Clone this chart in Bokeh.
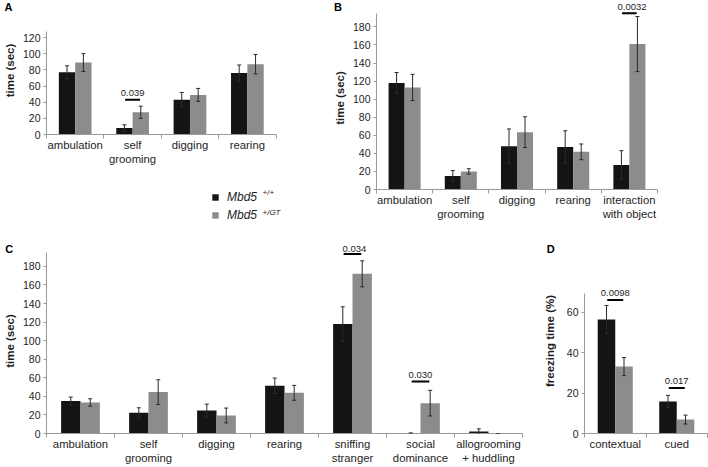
import numpy as np
from bokeh.plotting import figure
from bokeh.models import (ColumnDataSource, FixedTicker, Whisker, TeeHead, Label,
                          Legend, LegendItem, Range1d, LinearAxis, Title)
from bokeh.layouts import row, column
from bokeh.embed import file_html
from bokeh.resources import INLINE
from bokeh.core.properties import value

FONT = "Liberation Sans"
BLACK = "#141414"
GREY = "#8c8c8c"
AXIS = "#9a9a9a"
TXT = "#1e1e1e"
ERR = "#2a2a2a"
BW = 0.285
SIG_FS = 9.5
LET_FS = 11

# ---------------- data ----------------
a_cats = ["ambulation", "self\ngrooming", "digging", "rearing"]
a_wt = [77, 8, 43, 76]
a_wt_err = [8, 4, 9, 10]
a_gt = [89, 27.5, 49, 87]
a_gt_err = [11, 7.5, 8, 12]
a_yticks = [0, 20, 40, 60, 80, 100, 120]
a_sig_idx = [1]
a_sig_y = [43]
a_sig_txt = ["0.039"]

b_cats = ["ambulation", "self\ngrooming", "digging", "rearing", "interaction\nwith object"]
b_wt = [118, 15, 48, 47, 27]
b_wt_err = [11.5, 6, 19, 18, 16]
b_gt = [113, 20, 63.5, 41.7, 161]
b_gt_err = [14.5, 3, 17, 8.7, 30.5]
b_yticks = [0, 20, 40, 60, 80, 100, 120, 140, 160, 180]
b_sig_idx = [4]
b_sig_y = [195]
b_sig_txt = ["0.0032"]

c_cats = ["ambulation", "self\ngrooming", "digging", "rearing", "sniffing\nstranger",
          "social\ndominance", "allogrooming\n+ huddling"]
c_wt = [34.9, 22.3, 24.8, 51.4, 117.9, 0.4, 2.2]
c_wt_err = [4.3, 5.4, 6.8, 8.3, 18.6, 0, 2.8]
c_gt = [33.4, 44.6, 19.4, 43.8, 172, 32.7, 0]
c_gt_err = [4, 13.3, 8, 8, 14, 13.8, 0]
c_yticks = [0, 20, 40, 60, 80, 100, 120, 140, 160, 180]
c_sig_idx = [4, 5]
c_sig_y = [193.4, 56]
c_sig_txt = ["0.034", "0.030"]

d_cats = ["contextual", "cued"]
d_wt = [56.5, 15.9]
d_wt_err = [7, 3]
d_gt = [33.2, 6.9]
d_gt_err = [4.5, 2.2]
d_yticks = [0, 20, 40, 60]
d_sig_idx = [0, 1]
d_sig_y = [66.2, 22.6]
d_sig_txt = ["0.0098", "0.017"]

legend_labels = ["Mbd5", "Mbd5"]
legend_sups = ["+/+", "+/GT"]


def text_w(s, fs):
    w = {".": 0.278}
    return sum(w.get(ch, 0.556) for ch in s) * fs


def zero_title(text, fs, offset, bold=False):
    # a title that takes no layout height, centred on the top edge of the frame stack
    return Title(text=text, align="left", vertical_align="middle", offset=offset,
                 standoff=-(2 + 1.117 * fs), text_font=FONT, text_font_size=f"{fs}px",
                 text_font_style="bold" if bold else "normal", text_color="black" if bold else TXT)


def make_panel(cats, wt, wt_err, gt, gt_err, yticks, ylabel, axis_top, axis_n, y_end, x_end,
               width, height, b_left, b_right, b_top, b_bottom, label_standoff,
               sig_idx, sig_y, sig_txt, letter, letter_left):
    n = len(cats)
    p = figure(width=width, height=height, x_range=Range1d(0, x_end), y_range=Range1d(0, y_end),
               output_backend="svg", toolbar_location=None,
               min_border_left=b_left, min_border_right=b_right,
               min_border_top=0, min_border_bottom=b_bottom,
               x_axis_type=None, y_axis_type=None)
    p.outline_line_color = None
    p.background_fill_color = "white"
    p.border_fill_color = "white"
    p.title.visible = False

    frame_w = width - b_left - b_right
    frame_h = height - b_top - b_bottom
    cw = frame_w / x_end

    centers = np.arange(n) + 0.5
    xaxis = LinearAxis(ticker=FixedTicker(ticks=[float(c) for c in centers],
                                          minor_ticks=[float(v) for v in range(n + 1)]),
                       major_label_overrides={float(c): lab for c, lab in zip(centers, cats)},
                       bounds=(0, axis_n))
    xaxis.axis_line_color = AXIS
    xaxis.major_tick_line_color = None
    xaxis.major_tick_out = 0
    xaxis.major_tick_in = 0
    xaxis.minor_tick_line_color = AXIS
    xaxis.minor_tick_out = 4
    xaxis.minor_tick_in = 0
    xaxis.major_label_text_font = FONT
    xaxis.major_label_text_font_size = "11.3px"
    xaxis.major_label_text_color = TXT
    xaxis.major_label_standoff = 0
    p.add_layout(xaxis, "below")

    yaxis = LinearAxis(ticker=FixedTicker(ticks=yticks, minor_ticks=[]),
                       bounds=(0, axis_top), axis_label=ylabel)
    yaxis.axis_line_color = AXIS
    yaxis.major_tick_line_color = AXIS
    yaxis.major_tick_out = 3
    yaxis.major_tick_in = 0
    yaxis.minor_tick_line_color = None
    yaxis.major_label_text_font = FONT
    yaxis.major_label_text_font_size = "10.5px"
    yaxis.major_label_text_color = TXT
    yaxis.major_label_standoff = 3
    yaxis.axis_label_text_font = FONT
    yaxis.axis_label_text_font_style = "bold"
    yaxis.axis_label_text_font_size = "11.5px"
    yaxis.axis_label_text_color = TXT
    yaxis.axis_label_standoff = label_standoff
    p.add_layout(yaxis, "left")

    wt = np.array(wt, float)
    gt = np.array(gt, float)
    src = ColumnDataSource(dict(
        xw=centers - BW / 2, xg=centers + BW / 2, wt=wt, gt=gt,
        wl=wt - np.array(wt_err), wu=wt + np.array(wt_err),
        gl=gt - np.array(gt_err), gu=gt + np.array(gt_err)))
    p.vbar(x="xw", top="wt", width=BW, source=src, fill_color=BLACK, line_color=None)
    p.vbar(x="xg", top="gt", width=BW, source=src, fill_color=GREY, line_color=None)
    for base, lo, up in (("xw", "wl", "wu"), ("xg", "gl", "gu")):
        p.add_layout(Whisker(base=base, lower=lo, upper=up, source=src, line_color=ERR,
                             line_width=1, level="annotation",
                             upper_head=TeeHead(size=4, line_color=ERR, line_width=1),
                             lower_head=TeeHead(size=4, line_color=ERR, line_width=1)))

    # significance marks
    sxc = np.array(sig_idx, float) + 0.5
    sy = np.array(sig_y, float)
    p.segment(x0=sxc - 0.13, x1=sxc + 0.13, y0=sy, y1=sy, line_width=2, line_color="black")
    line_px = b_top + (y_end - sy) * frame_h / y_end
    in_frame = line_px - 3 - SIG_FS > b_top
    gx = [x for x, ok in zip(sxc, in_frame) if ok]
    gy = [y for y, ok in zip(sy, in_frame) if ok]
    gt_ = [t for t, ok in zip(sig_txt, in_frame) if ok]
    if gx:
        p.text(x=gx, y=gy, text=gt_, text_align="center", text_baseline="middle",
               y_offset=-6.5, text_font=value(FONT), text_font_size=f"{SIG_FS}px", text_color=TXT)

    # titles: zero-height letter / top p-values, then an outer spacer setting the top border
    p.add_layout(zero_title(letter, LET_FS, letter_left - b_left, bold=True), "above")
    for x, t, ok in zip(sxc, sig_txt, in_frame):
        if not ok:
            p.add_layout(zero_title(t, SIG_FS, x * cw - text_w(t, SIG_FS) / 2), "above")
    p.add_layout(Title(text=" ", text_font=FONT, text_font_size="10px",
                       standoff=b_top - 2 - 1.117 * 10), "above")
    return p


# Panel A (330 x 181): frame left 43, top 6, bottom 134; axis spans 232 px of 287
pA = make_panel(a_cats, a_wt, a_wt_err, a_gt, a_gt_err, a_yticks, "time (sec)",
                127, 4, 128 / 0.8083, 4 * 287 / 232, 330, 181, 43, 0, 6, 47, 4,
                a_sig_idx, a_sig_y, a_sig_txt, "A", 1)

# Legend strip under A (330 x 55)
pL = figure(width=330, height=55, x_range=Range1d(0, 1), y_range=Range1d(0, 1),
            output_backend="svg", toolbar_location=None, x_axis_type=None, y_axis_type=None,
            min_border_left=43, min_border_right=0, min_border_top=0, min_border_bottom=0)
pL.outline_line_color = None
pL.title.visible = False
# legend proxies (NaN data: nothing drawn in the strip itself)
lr_w = pL.vbar(x=[np.nan], top=[np.nan], width=0.1, fill_color=BLACK, line_color=None)
lr_g = pL.vbar(x=[np.nan], top=[np.nan], width=0.1, fill_color=GREY, line_color=None)
legend = Legend(items=[LegendItem(label=legend_labels[0], renderers=[lr_w]),
                       LegendItem(label=legend_labels[1], renderers=[lr_g])],
                location=(165, 14.5), orientation="vertical", glyph_width=8, glyph_height=8,
                label_height=8, spacing=4, padding=0, margin=0, label_standoff=8,
                border_line_color=None, background_fill_alpha=0,
                label_text_font=FONT, label_text_font_style="italic",
                label_text_font_size="12px", label_text_color=TXT)
pL.add_layout(legend)
for txt, yy in zip(legend_sups, (44, 24.5)):
    pL.add_layout(Label(x=216, y=yy, x_units="screen", y_units="screen", text=txt,
                        text_font=FONT, text_font_style="italic", text_font_size="8px",
                        text_baseline="middle", text_color=TXT))

# Panel B (378 x 236): frame left 43, right border 51, top 6, bottom 189
pB = make_panel(b_cats, b_wt, b_wt_err, b_gt, b_gt_err, b_yticks, "time (sec)",
                195, 5, 183 / 0.9033, 5, 378, 236, 43, 51, 6, 47, 4,
                b_sig_idx, b_sig_y, b_sig_txt, "B", 0.5)

# Panel C (540 x 231): frame left 43, right border 18, top 12, bottom 197
pC = make_panel(c_cats, c_wt, c_wt_err, c_gt, c_gt_err, c_yticks, "time (sec)",
                195, 7, 185 / 0.9283, 7, 540, 231, 43, 18, 12, 34, 4,
                c_sig_idx, c_sig_y, c_sig_txt, "C", 1.7)

# Panel D (168 x 231): frame left 40, right border 1, top 12, bottom 197
pD = make_panel(d_cats, d_wt, d_wt_err, d_gt, d_gt_err, d_yticks, "freezing time (%)",
                69.5, 2, 185 / 2.0167, 2, 168, 231, 40, 1, 12, 34, 8,
                d_sig_idx, d_sig_y, d_sig_txt, "D", 2.3)

layout = column(row(column(pA, pL), pB), row(pC, pD))
open("out.html", "w").write(file_html(layout, INLINE))
